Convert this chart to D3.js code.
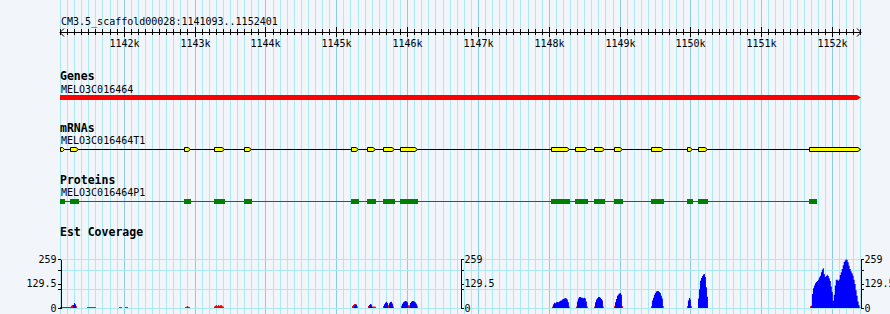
<!DOCTYPE html>
<html>
<head>
<meta charset="utf-8">
<script src="https://cdn.jsdelivr.net/npm/d3@7"></script>
<style>
  body { margin: 0; background: #f2f5fa; }
  svg { display: block; font-family: "DejaVu Sans Mono", monospace; }
</style>
</head>
<body>
<svg id="chart" width="890" height="314"></svg>
<script>
'use strict';

// segment shown in the browser
var segmentName = 'CM3.5_scaffold00028';
var segStart = 1141093;
var segEnd = 1152401;
var rulerTicks = [1142000, 1143000, 1144000, 1145000, 1146000, 1147000,
                  1148000, 1149000, 1150000, 1151000, 1152000];

var geneName = 'MELO3C016464';
var geneSpan = [1141093, 1152401];

var mrnaName = 'MELO3C016464T1';
var mrnaExons = [
  [1141093, 1141164], [1141234, 1141361], [1142848, 1142942], [1143267, 1143422],
  [1143695, 1143799], [1145201, 1145314], [1145427, 1145554], [1145653, 1145822],
  [1145893, 1146147], [1148024, 1148293], [1148363, 1148547], [1148631, 1148787],
  [1148914, 1149041], [1149436, 1149620], [1149944, 1150029], [1150100, 1150241],
  [1151667, 1152401]
];

var proteinName = 'MELO3C016464P1';
var cdsParts = [
  [1141093, 1141164], [1141234, 1141361], [1142848, 1142942], [1143267, 1143422],
  [1143695, 1143799], [1145201, 1145314], [1145427, 1145554], [1145653, 1145822],
  [1145893, 1146147], [1148024, 1148293], [1148363, 1148547], [1148631, 1148787],
  [1148914, 1149041], [1149436, 1149620], [1149944, 1150029], [1150100, 1150241],
  [1151667, 1151780]
];

// Est coverage, binned histogram (bin = 14 bp)
var covMax = 259;
var covTicks = [0, 129.5, 259];
var covMinorTicks = [100, 200];
var BIN = 14;

var redStarts = [1141093, 1141474, 1141926, 1142011, 1142858, 1143267, 1145215, 1145441,
                 1145653, 1145907, 1148039, 1148377, 1148631, 1148914, 1149436, 1149944, 1151681];
var redValues = [
  [5, 5, 5, 5, 5, 5, 5, 5, 5, 5, 5, 12, 16, 16, 16, 12, 10],
  [5, 5, 5, 5, 5, 5, 5, 5, 5],
  [5, 5, 5],
  [5, 5, 5],
  [5, 6, 10, 6, 5],
  [8, 12, 16, 10, 16, 12, 14, 16, 10, 6],
  [10, 16, 21, 18, 12, 8],
  [10, 12, 12, 10, 8, 8, 8, 6],
  [10, 12, 12, 12, 12, 14, 12, 12, 12, 12, 8],
  [12, 12, 12, 12, 12, 12, 12, 14, 14, 12, 12, 12, 12, 12, 12, 12, 12],
  [8, 8, 8, 8, 8, 8, 8, 8, 8, 8, 8, 8, 8, 8, 8, 8, 8, 8],
  [8, 8, 8, 8, 8, 8, 8, 8, 8, 8, 8, 8],
  [8, 8, 8, 8, 8, 8, 8, 8, 8, 8],
  [10, 10, 10, 10, 10, 10, 10, 10, 10],
  [10, 10, 10, 10, 10, 10, 10, 10, 10, 10, 10, 10, 10],
  [10, 10, 10, 10, 10],
  [10, 10]
];

var blueStarts = [1141276, 1145243, 1145455, 1145667, 1145921, 1148053, 1148391,
                  1148646, 1148928, 1149450, 1149958, 1150100, 1151695];
var blueValues = [
  [15, 26, 20],
  [12, 20, 18],
  [16, 21, 18],
  [20, 28, 33, 26, 0, 25, 32, 33, 24],
  [22, 30, 35, 37, 36, 30, 0, 0, 26, 33, 37, 37, 35, 30, 22],
  [20, 28, 25, 30, 32, 30, 35, 38, 40, 45, 48, 50, 53, 50, 45, 30],
  [35, 50, 58, 58, 55, 55, 52, 55, 50, 35],
  [30, 45, 52, 58, 58, 55, 48, 40],
  [30, 48, 65, 72, 77, 80, 70],
  [40, 55, 70, 80, 88, 90, 90, 85, 80, 65, 50],
  [40, 53, 45],
  [50, 100, 145, 160, 170, 178, 181, 165, 110, 60],
  [12, 74, 105, 120, 131, 138, 143, 150, 162, 172, 190, 205, 212, 181, 165, 170, 177,
   170, 158, 144, 115, 85, 39, 70, 120, 150, 150, 145, 152, 175, 190, 207, 228, 245,
   252, 259, 255, 243, 225, 207, 195, 185, 172, 150, 128, 95, 65, 35, 15, 3]
];

var svg = d3.select('#chart');
var width = 890, height = 314;
var left = 60, right = 861;

var x = d3.scaleLinear().domain([segStart, segEnd]).range([left, right]);
function px(v) { return Math.floor(x(v)) + 0.5; }

svg.append('rect')
  .attr('width', width).attr('height', height)
  .attr('fill', '#f2f5fa');

// vertical grid, every 100 bp, darker at each kb
var gridStops = d3.range(Math.ceil(segStart / 100) * 100, segEnd, 100);
svg.append('g')
  .attr('shape-rendering', 'crispEdges')
  .selectAll('line').data(gridStops).join('line')
  .attr('x1', px).attr('x2', px)
  .attr('y1', 0).attr('y2', height)
  .attr('stroke', function(d) { return d % 1000 === 0 ? '#8ccbea' : '#ade9f1'; });

// ruler
var ruler = svg.append('g').attr('shape-rendering', 'crispEdges').attr('stroke', '#000');
ruler.append('line')
  .attr('x1', left).attr('x2', right)
  .attr('y1', 32.5).attr('y2', 32.5);
ruler.selectAll('line.minor').data(gridStops).join('line')
  .attr('class', 'minor')
  .attr('x1', px).attr('x2', px)
  .attr('y1', function(d) { return d % 1000 === 0 ? 27 : 29; })
  .attr('y2', function(d) { return d % 1000 === 0 ? 37 : 35; });
svg.append('path')
  .attr('d', 'M' + (left + 4) + ',28.5L' + left + ',32.5L' + (left + 4) + ',36.5' +
             'M' + (right - 4) + ',28.5L' + right + ',32.5L' + (right - 4) + ',36.5')
  .attr('fill', 'none')
  .attr('stroke', '#000');

svg.append('text')
  .attr('x', 61).attr('y', 25)
  .attr('font-size', 10)
  .text(segmentName + ':' + segStart + '..' + segEnd);

svg.append('g').selectAll('text').data(rulerTicks).join('text')
  .attr('x', function(d) { return px(d); })
  .attr('y', 46.5)
  .attr('text-anchor', 'middle')
  .attr('font-size', 10)
  .text(function(d) { return (d / 1000) + 'k'; });

// track headers
function trackLabel(title, name, y) {
  svg.append('text')
    .attr('x', 60).attr('y', y)
    .attr('font-size', 11.5)
    .attr('font-weight', 'bold')
    .text(title);
  if (name) {
    svg.append('text')
      .attr('x', 61).attr('y', y + 12.5)
      .attr('font-size', 10)
      .text(name);
  }
}
trackLabel('Genes', geneName, 80);
trackLabel('mRNAs', mrnaName, 131.5);
trackLabel('Proteins', proteinName, 183.5);
trackLabel('Est Coverage', null, 236);

// gene: red bar with arrow tip
var g0 = x(geneSpan[0]), g1 = x(geneSpan[1]);
svg.append('path')
  .attr('d', 'M' + g0 + ',95L' + (g1 - 4) + ',95L' + g1 + ',97.5L' + (g1 - 4) + ',100L' + g0 + ',100Z')
  .attr('fill', '#ff0000');

// mRNA: intron line + yellow exons pointing right
svg.append('line')
  .attr('x1', left).attr('x2', right)
  .attr('y1', 149.5).attr('y2', 149.5)
  .attr('stroke', '#000')
  .attr('shape-rendering', 'crispEdges');
svg.append('g').selectAll('path').data(mrnaExons).join('path')
  .attr('d', function(d) {
    var a = Math.round(x(d[0])) + 0.5, b = Math.round(x(d[1])) - 0.5;
    var tip = Math.min(2.5, (b - a) / 2);
    return 'M' + a + ',147.5L' + (b - tip) + ',147.5L' + b + ',149.5L' + (b - tip) + ',151.5L' + a + ',151.5Z';
  })
  .attr('fill', '#ffff00')
  .attr('stroke', '#000');

// protein: green line + CDS boxes
var lastCds = cdsParts[cdsParts.length - 1];
svg.append('line')
  .attr('x1', x(cdsParts[0][0])).attr('x2', x(lastCds[1]))
  .attr('y1', 201.5).attr('y2', 201.5)
  .attr('stroke', '#008000')
  .attr('shape-rendering', 'crispEdges');
svg.append('g').selectAll('rect').data(cdsParts).join('rect')
  .attr('x', function(d) { return Math.round(x(d[0])); })
  .attr('width', function(d) { return Math.round(x(d[1])) - Math.round(x(d[0])); })
  .attr('y', 199).attr('height', 5.4)
  .attr('fill', '#008000')
  .attr('shape-rendering', 'crispEdges');

// Est coverage
var y = d3.scaleLinear().domain([0, covMax]).range([308, 259.3]);

svg.append('g')
  .attr('shape-rendering', 'crispEdges')
  .selectAll('line').data([covMax].concat(covMinorTicks, [0])).join('line')
  .attr('x1', left).attr('x2', right)
  .attr('y1', function(d) { return Math.floor(y(d)) + 0.5; })
  .attr('y2', function(d) { return Math.floor(y(d)) + 0.5; })
  .attr('stroke', '#ade9f1');

var area = d3.area()
  .x(function(d) { return x(d[0]); })
  .y0(y(0))
  .y1(function(d) { return y(d[1]); })
  .curve(d3.curveStepAfter);

function peaks(starts, values) {
  return starts.map(function(s, i) {
    var pts = values[i].map(function(v, j) { return [s + j * BIN, v]; });
    pts.push([s + values[i].length * BIN, 0]);
    return pts;
  });
}

svg.append('g').selectAll('path').data(peaks(redStarts, redValues)).join('path')
  .attr('d', area).attr('fill', '#ff0000');
svg.append('g').selectAll('path').data(peaks(blueStarts, blueValues)).join('path')
  .attr('d', area).attr('fill', '#0000ff');

// coverage scales at left, middle and right
function covAxis(xpos, side) {
  var ax = side === 'left' ? d3.axisLeft(y) : d3.axisRight(y);
  var minor = side === 'left' ? d3.axisLeft(y) : d3.axisRight(y);
  var g = svg.append('g').attr('transform', 'translate(' + xpos + ',0)');
  g.call(ax.tickValues(covTicks).tickSize(3).tickSizeOuter(0).tickPadding(1)
           .tickFormat(function(d) { return String(d); }));
  g.call(function(sel) {
    sel.append('g').call(minor.tickValues(covMinorTicks).tickSize(3).tickFormat(''));
  });
  g.attr('font-family', null).attr('font-size', 10);
  g.selectAll('text').attr('fill', '#000');
  g.selectAll('line, path').attr('stroke', '#000').attr('shape-rendering', 'crispEdges');
  g.selectAll('g g path.domain').remove();
}
covAxis(left + 0.5, 'left');
covAxis(Math.floor((left + right) / 2) + 0.5, 'right');
covAxis(right - 0.5, 'right');
</script>
</body>
</html>
